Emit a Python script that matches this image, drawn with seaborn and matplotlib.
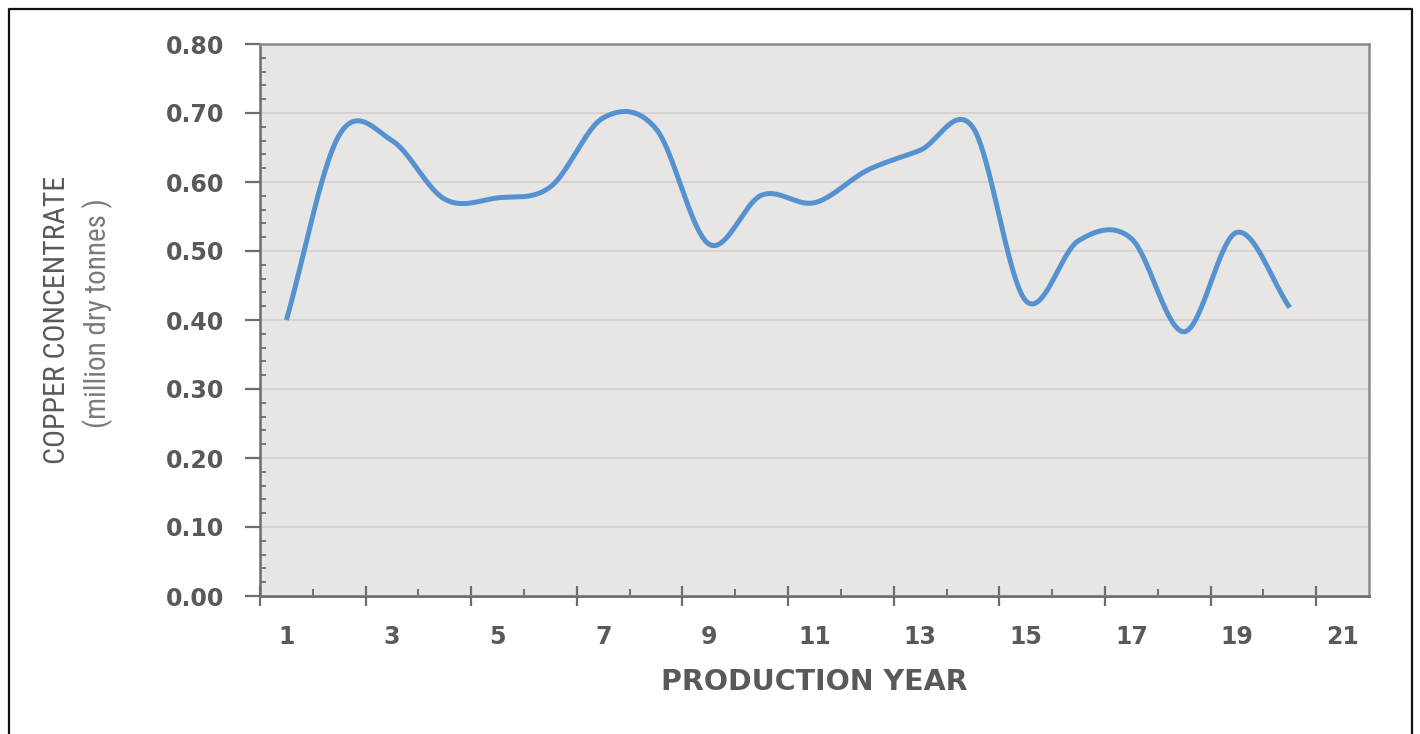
import numpy as np
import pandas as pd
import matplotlib
matplotlib.use("Agg")
import matplotlib.pyplot as plt
import seaborn as sns
from matplotlib.lines import Line2D
from matplotlib.ticker import MultipleLocator, NullFormatter, NullLocator, FixedLocator
from matplotlib import font_manager

# Annual copper concentrate production (million dry tonnes)
years = list(range(1, 21))
concentrate = [0.40, 0.668, 0.66, 0.575, 0.577, 0.593, 0.693, 0.677, 0.51, 0.581,
               0.570, 0.617, 0.646, 0.679, 0.428, 0.515, 0.518, 0.383, 0.527, 0.418]
year_labels = [str(v) for v in range(1, 22, 2)]
y_ticks = [0.00, 0.10, 0.20, 0.30, 0.40, 0.50, 0.60, 0.70, 0.80]

TEXT = "#595959"
AXIS = "#6d6d6d"
LINE = "#5592cf"


def smooth_curve(x, y, n=40):
    """Catmull-Rom spline through the points (linear end extrapolation)."""
    x = np.asarray(x, float)
    y = np.asarray(y, float)
    xp = np.concatenate([[2 * x[0] - x[1]], x, [2 * x[-1] - x[-2]]])
    yp = np.concatenate([[2 * y[0] - y[1]], y, [2 * y[-1] - y[-2]]])
    sx, sy = [], []
    for i in range(len(x) - 1):
        t = np.linspace(0, 1, n, endpoint=(i == len(x) - 2))
        for src, dst in ((xp, sx), (yp, sy)):
            p0, p1, p2, p3 = src[i], src[i + 1], src[i + 2], src[i + 3]
            dst.extend(0.5 * (2 * p1 + (-p0 + p2) * t
                              + (2 * p0 - 5 * p1 + 4 * p2 - p3) * t ** 2
                              + (-p0 + 3 * p1 - 3 * p2 + p3) * t ** 3))
    return np.array(sx), np.array(sy)


def pick_font(candidates):
    names = {f.name for f in font_manager.fontManager.ttflist}
    for c in candidates:
        if c in names:
            return c
    return "DejaVu Sans"


sns.set_theme(style="white")
plt.rcParams["font.family"] = ["DejaVu Sans"]
narrow = pick_font(["Roboto Condensed", "Liberation Sans Narrow", "Roboto", "Liberation Sans"])

fig = plt.figure(figsize=(14.2, 7.34), dpi=100)
fig.patch.set_facecolor("white")
ax = fig.add_axes([260 / 1420, 138 / 734, 1109 / 1420, 552 / 734])
ax.set_facecolor("#e8e5e5")

sx, sy = smooth_curve(years, concentrate)
curve = pd.DataFrame({"year": sx, "value": sy})
sns.lineplot(data=curve, x="year", y="value", ax=ax, sort=False, estimator=None,
             color=LINE, linewidth=3.6, solid_capstyle="butt")

ax.set_xlim(0.5, 21.5)
ax.set_ylim(0, 0.8)

# horizontal gridlines
ax.set_axisbelow(True)
ax.yaxis.grid(True, color="#d6d2d2", linewidth=1.4)
ax.xaxis.grid(False)

# y axis
ax.set_yticks(y_ticks)
ax.set_yticklabels([f"{v:.2f}" for v in y_ticks])
ax.yaxis.set_minor_locator(MultipleLocator(0.02))
ax.tick_params(axis="y", which="major", direction="out", length=11, width=1.6,
               color=AXIS, pad=15, labelsize=17, labelcolor=TEXT, left=True)
ax.tick_params(axis="y", which="minor", direction="in", length=4, width=1.3,
               color=AXIS, left=True)
for lbl in ax.get_yticklabels():
    lbl.set_fontweight("bold")

# x axis: labels on odd years, tick marks on category boundaries
ax.set_xticks(range(1, 22, 2))
ax.set_xticklabels(year_labels)
ax.xaxis.set_minor_locator(FixedLocator(np.arange(1.5, 20.6, 2)))
ax.tick_params(axis="x", which="major", length=0, pad=21, labelsize=17,
               labelcolor=TEXT, bottom=True)
ax.tick_params(axis="x", which="minor", direction="in", length=5, width=1.4,
               color=AXIS, bottom=True)
for lbl in ax.get_xticklabels():
    lbl.set_fontweight("bold")

sec = ax.secondary_xaxis("bottom")
sec.set_xticks(np.arange(0.5, 21, 2))
sec.xaxis.set_major_formatter(NullFormatter())
sec.xaxis.set_minor_locator(NullLocator())
sec.tick_params(axis="x", which="major", direction="inout", length=15, width=1.6,
                color=AXIS)
sec.spines["bottom"].set_color(AXIS)
sec.spines["bottom"].set_linewidth(1.8)

for side in ("left", "bottom"):
    ax.spines[side].set_color(AXIS)
    ax.spines[side].set_linewidth(1.8)
for side in ("top", "right"):
    ax.spines[side].set_color("#8a8a8a")
    ax.spines[side].set_linewidth(1.8)

# axis titles
ax.set_xlabel("PRODUCTION YEAR", fontsize=20.5, fontweight="bold", color=TEXT)
ax.xaxis.set_label_coords(0.5, (596 - 682) / 552)
ax.xaxis.label.set_va("center")

ax.set_ylabel("COPPER CONCENTRATE", fontsize=21.5, color=TEXT, family=narrow)
ax.yaxis.set_label_coords((57 - 260) / 1109, 0.5)
ax.yaxis.label.set_va("center")
ax.text((98 - 260) / 1109, (596 - 313) / 552, "(million dry tonnes )",
        transform=ax.transAxes, rotation=90, ha="center", va="center",
        fontsize=21, color="#7a7a7a", family=narrow)

# frame around the figure (open at the bottom)
x0, x1, yt = 8.5 / 1420, 1411.5 / 1420, 1 - 8.5 / 734
fig.add_artist(Line2D([x0, x0, x1, x1], [0, yt, yt, 0], transform=fig.transFigure,
                      color="#111111", linewidth=1.6))

fig.savefig("out.png", dpi=100)
